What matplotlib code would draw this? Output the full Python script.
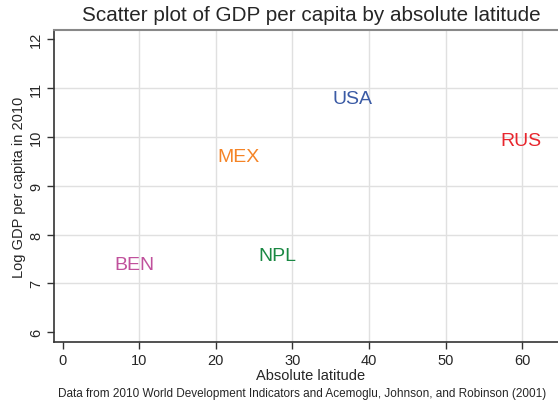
import matplotlib
matplotlib.use("Agg")
import matplotlib.pyplot as plt

countries = ["USA", "MEX", "RUS", "NPL", "BEN"]
abs_latitude = [37.9, 23.0, 59.9, 28.0, 9.4]
log_gdp_2010 = [10.78, 9.60, 9.93, 7.57, 7.39]
label_colors = ["#3b5ba5", "#f58426", "#e8262e", "#1a8843", "#c0519c"]
x_ticks = [0, 10, 20, 30, 40, 50, 60]
y_ticks = [6, 7, 8, 9, 10, 11, 12]

plt.rcParams['font.family'] = ['Liberation Sans', 'DejaVu Sans']
txt = "#262626"

W, H = 558, 402
fig = plt.figure(figsize=(W / 100, H / 100), dpi=100)
left, right, top, bottom = 54, 568, 31, 343
ax = fig.add_axes([left / W, 1 - bottom / H, (right - left) / W, (bottom - top) / H])

ax.set_xlim(-1.15, 66.0)
ax.set_ylim(5.8, 12.19)

for c, x, y, col in zip(countries, abs_latitude, log_gdp_2010, label_colors):
    ax.text(x, y, c, color=col, fontsize=14, ha="center", va="center")

ax.set_xticks(x_ticks)
ax.set_yticks(y_ticks)
ax.set_yticklabels([str(t) for t in y_ticks], rotation=90, va="center")
ax.tick_params(axis="both", direction="out", length=5, width=1, color="#333333",
               labelsize=10.5, labelcolor=txt, pad=3)

for t in x_ticks[1:]:
    ax.axvline(t, color="#e0e0e0", lw=1, zorder=0)
for t in y_ticks[1:-1]:
    ax.axhline(t, color="#e0e0e0", lw=1, zorder=0)

for s in ["left", "bottom"]:
    ax.spines[s].set_color("#333333")
    ax.spines[s].set_linewidth(1.2)
ax.spines["top"].set_color("#888888")
ax.spines["top"].set_linewidth(1.5)
ax.spines["right"].set_visible(False)

ax.set_xlabel("Absolute latitude", fontsize=10.5, color=txt, labelpad=1)
ax.set_ylabel("Log GDP per capita in 2010", fontsize=10.5, color=txt, labelpad=2)
ax.set_title("Scatter plot of GDP per capita by absolute latitude", fontsize=14.9,
             color=txt, pad=7)

fig.text(302.5 / W, 1 - 397 / H,
         "Data from 2010 World Development Indicators and Acemoglu, Johnson, and Robinson (2001)",
         fontsize=8.5, color=txt, ha="center", va="baseline")

fig.savefig("out.png", dpi=100)
